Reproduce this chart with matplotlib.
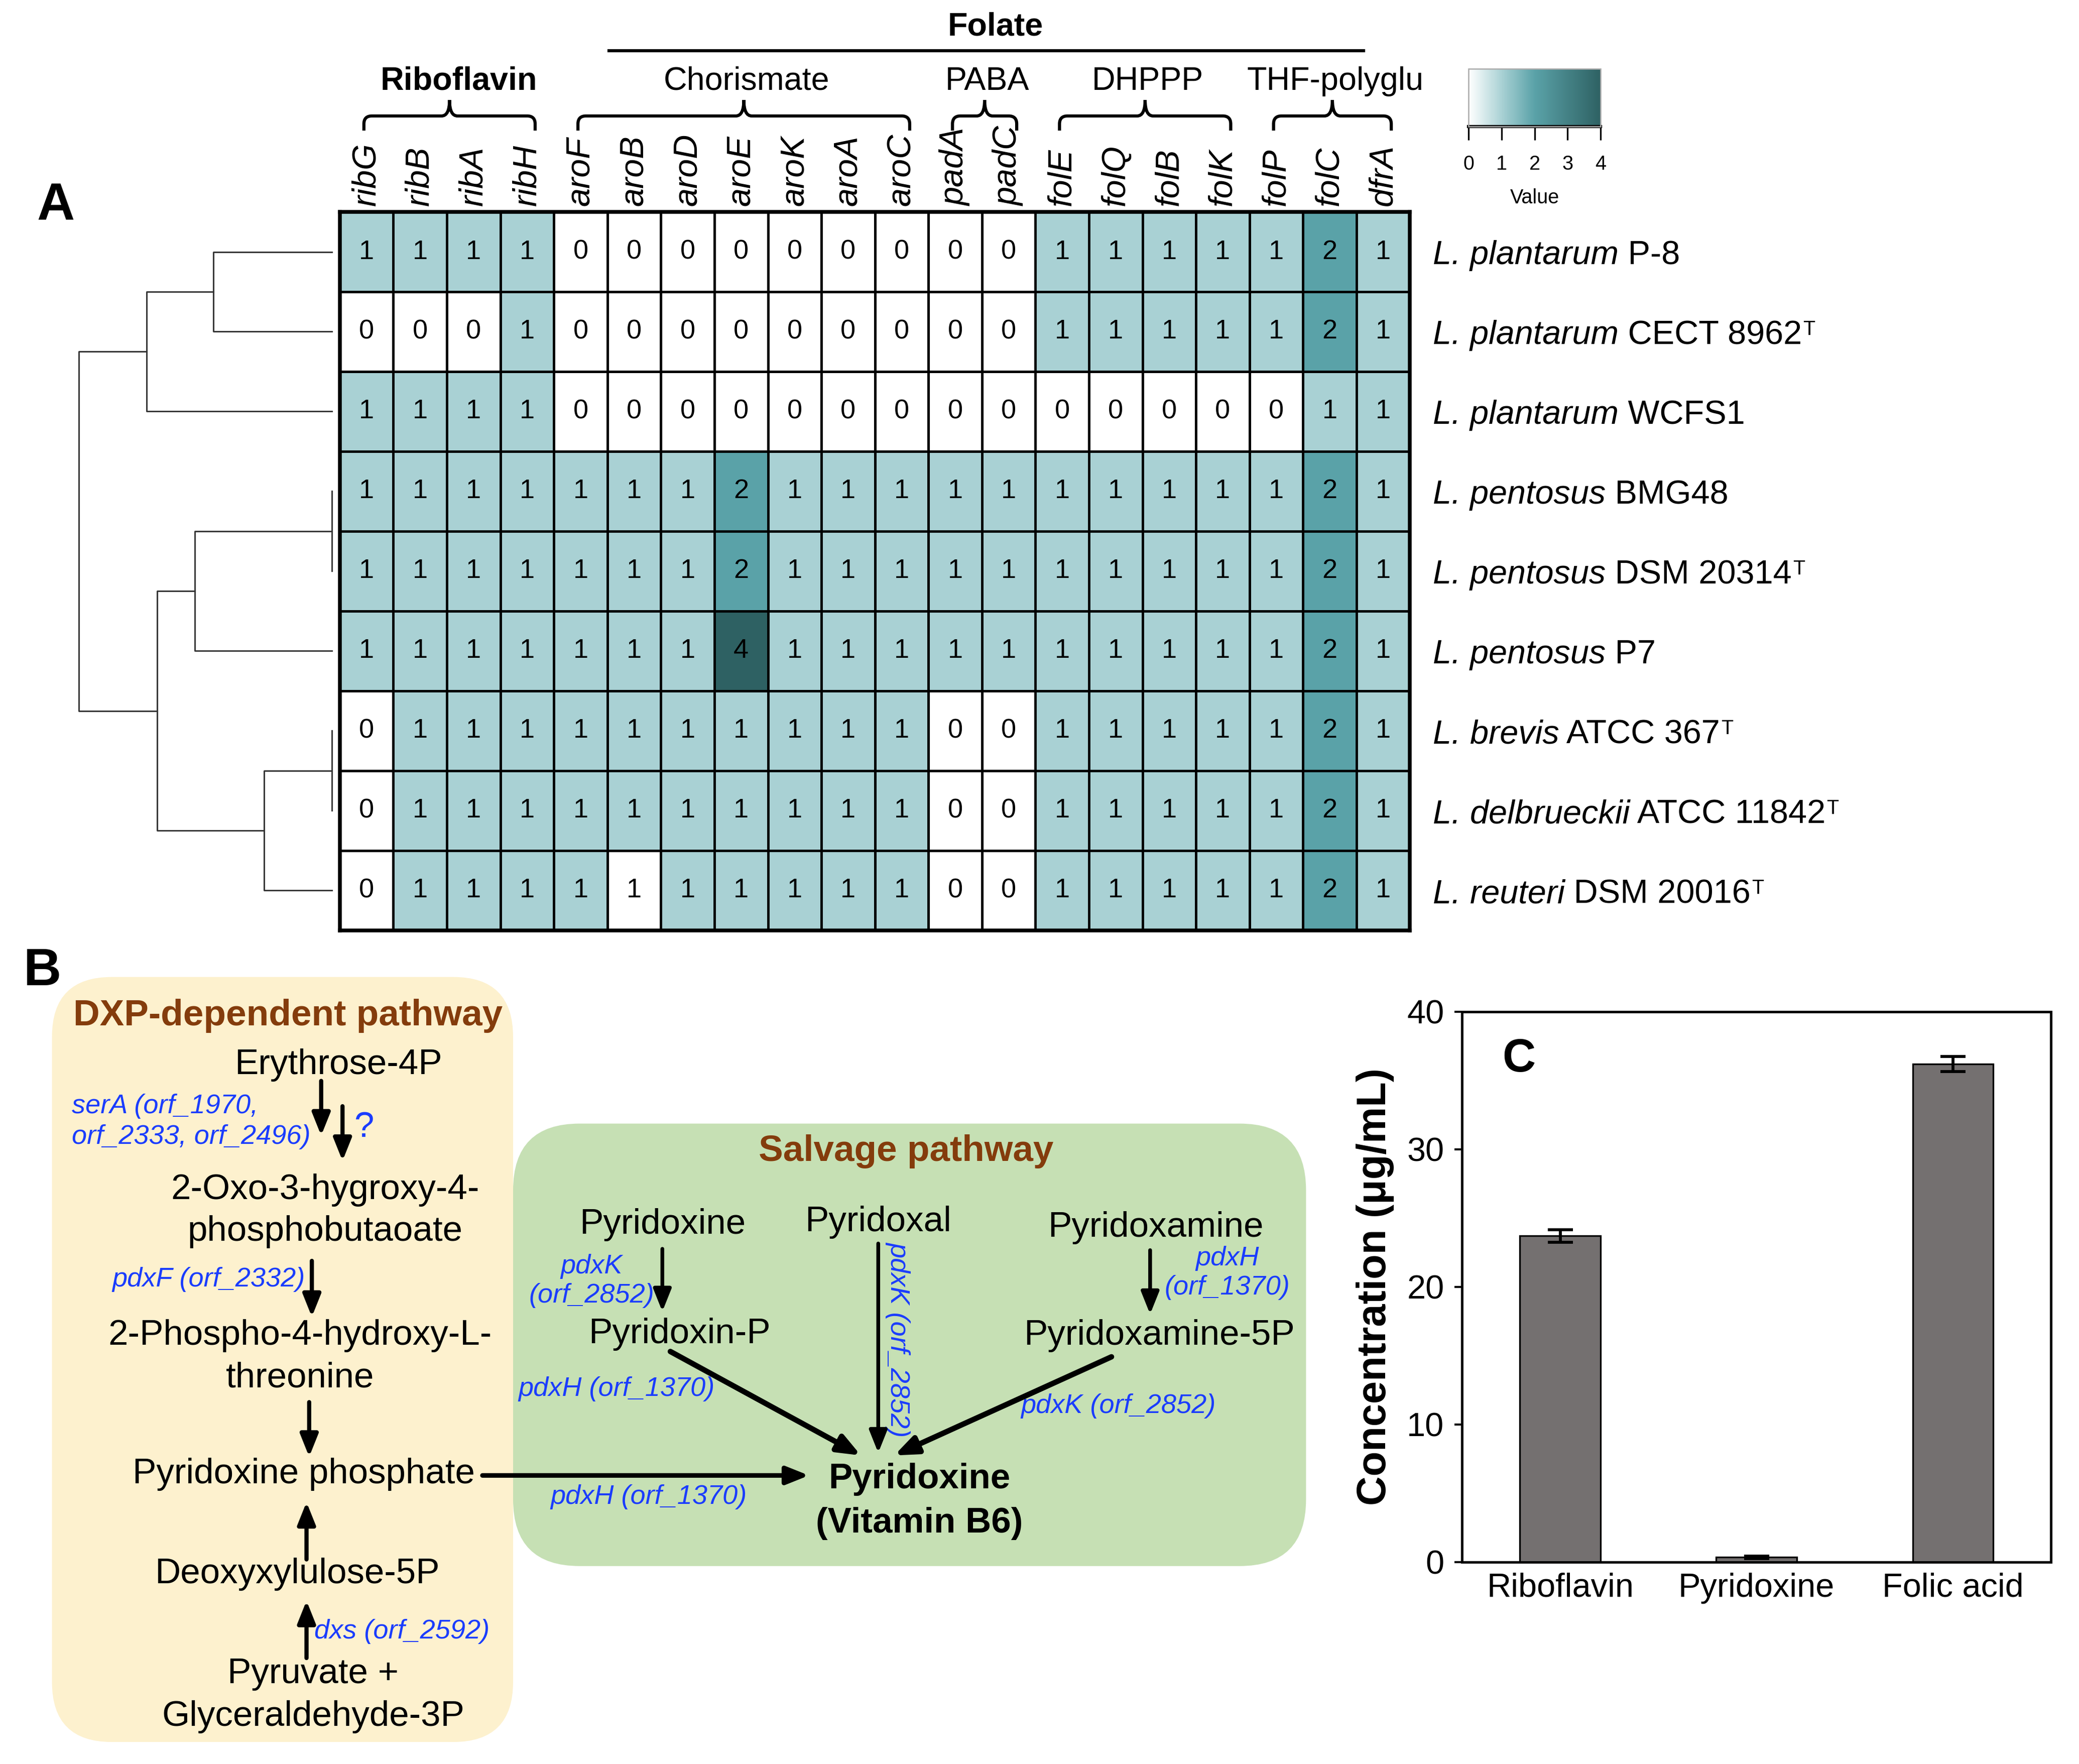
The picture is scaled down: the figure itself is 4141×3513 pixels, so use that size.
import numpy as np
import matplotlib
matplotlib.use('Agg')
import matplotlib.pyplot as plt
import matplotlib.cm as cm
from matplotlib.colors import LinearSegmentedColormap, Normalize
from matplotlib.patches import FancyBboxPatch, PathPatch
from matplotlib.path import Path

plt.rcParams['font.family'] = ['Liberation Sans', 'DejaVu Sans']

# ---------------- datos ----------------
genes = ['ribG', 'ribB', 'ribA', 'ribH', 'aroF', 'aroB', 'aroD', 'aroE', 'aroK', 'aroA',
         'aroC', 'padA', 'padC', 'folE', 'folQ', 'folB', 'folK', 'folP', 'folC', 'dfrA']
subgroups = ['Riboflavin', 'Chorismate', 'PABA', 'DHPPP', 'THF-polyglu']
subgroup_cols = [(0, 3), (4, 10), (11, 12), (13, 16), (17, 19)]
bold_subgroups = ['Riboflavin']
folate_title = 'Folate'

species = ['L. plantarum', 'L. plantarum', 'L. plantarum', 'L. pentosus', 'L. pentosus',
           'L. pentosus', 'L. brevis', 'L. delbrueckii', 'L. reuteri']
strains = ['P-8', 'CECT 8962', 'WCFS1', 'BMG48', 'DSM 20314', 'P7', 'ATCC 367',
           'ATCC 11842', 'DSM 20016']
type_strain = [False, True, False, False, True, False, True, True, True]

values = np.array([
    [1, 1, 1, 1, 0, 0, 0, 0, 0, 0, 0, 0, 0, 1, 1, 1, 1, 1, 2, 1],
    [0, 0, 0, 1, 0, 0, 0, 0, 0, 0, 0, 0, 0, 1, 1, 1, 1, 1, 2, 1],
    [1, 1, 1, 1, 0, 0, 0, 0, 0, 0, 0, 0, 0, 0, 0, 0, 0, 0, 1, 1],
    [1, 1, 1, 1, 1, 1, 1, 2, 1, 1, 1, 1, 1, 1, 1, 1, 1, 1, 2, 1],
    [1, 1, 1, 1, 1, 1, 1, 2, 1, 1, 1, 1, 1, 1, 1, 1, 1, 1, 2, 1],
    [1, 1, 1, 1, 1, 1, 1, 4, 1, 1, 1, 1, 1, 1, 1, 1, 1, 1, 2, 1],
    [0, 1, 1, 1, 1, 1, 1, 1, 1, 1, 1, 0, 0, 1, 1, 1, 1, 1, 2, 1],
    [0, 1, 1, 1, 1, 1, 1, 1, 1, 1, 1, 0, 0, 1, 1, 1, 1, 1, 2, 1],
    [0, 1, 1, 1, 1, 1, 1, 1, 1, 1, 1, 0, 0, 1, 1, 1, 1, 1, 2, 1],
])
# celda que en el original aparece sin color aunque vale 1
white_cells = [(8, 5)]

# dendrograma (estilo linkage: pares de nodos y altura de union)
dendro_pairs = [(0, 1), (9, 2), (3, 4), (11, 5), (6, 7), (13, 8), (12, 14), (10, 15)]
dendro_heights = [89, 139, 0, 103, 0, 51, 131, 190]

# panel C
vitamins = ['Riboflavin', 'Pyridoxine', 'Folic acid']
conc = [23.7, 0.35, 36.2]
conc_err = [0.45, 0.1, 0.55]

# panel B
dxp_title = 'DXP-dependent pathway'
salvage_title = 'Salvage pathway'
dxp_nodes = ['Erythrose-4P', '2-Oxo-3-hygroxy-4-', 'phosphobutaoate',
             '2-Phospho-4-hydroxy-L-', 'threonine', 'Pyridoxine phosphate',
             'Deoxyxylulose-5P', 'Pyruvate +', 'Glyceraldehyde-3P']
salvage_nodes = ['Pyridoxine', 'Pyridoxal', 'Pyridoxamine', 'Pyridoxin-P', 'Pyridoxamine-5P']
product = ['Pyridoxine', '(Vitamin B6)']
enzymes = ['serA (orf_1970,', 'orf_2333, orf_2496)', 'pdxF (orf_2332)', 'dxs (orf_2592)',
           'pdxK', '(orf_2852)', 'pdxH', '(orf_1370)', 'pdxK (orf_2852)',
           'pdxH (orf_1370)', 'pdxK (orf_2852)', 'pdxH (orf_1370)']

# ---------------- figura ----------------
W, H = 1560.0, 1323.5
fig = plt.figure(figsize=(4141 / 300, 3513 / 300), dpi=300)


def rect(x0, y0, x1, y1):
    return [x0 / W, 1 - y1 / H, (x1 - x0) / W, (y1 - y0) / H]


# eje de fondo para anotaciones en coordenadas de "pantalla"
ax0 = fig.add_axes([0, 0, 1, 1])
ax0.set_xlim(0, W)
ax0.set_ylim(H, 0)
ax0.axis('off')

cmap = LinearSegmentedColormap.from_list(
    'teal', [(0, '#FFFFFF'), (0.25, '#A9D1D4'), (0.5, '#5AA2A8'), (1.0, '#2E6163')])

# heatmap
HX0, HY0, HX1, HY1 = 255, 159, 1058, 698
ncol = len(genes)
nrow = len(species)
cw = (HX1 - HX0) / ncol
rh = (HY1 - HY0) / nrow
ax_h = fig.add_axes(rect(HX0, HY0, HX1, HY1))
fill = values.astype(float).copy()
for r, c in white_cells:
    fill[r, c] = 0
ax_h.pcolormesh(fill, cmap=cmap, vmin=0, vmax=4, edgecolors='black', linewidth=1.2)
ax_h.set_xlim(0, ncol)
ax_h.set_ylim(nrow, 0)
for r in range(values.shape[0]):
    for c in range(values.shape[1]):
        ax_h.text(c + 0.5, r + 0.5, str(values[r, c]), ha='center', va='center', fontsize=13)
ax_h.xaxis.tick_top()
ax_h.set_xticks(np.arange(ncol) + 0.5)
ax_h.set_xticklabels(genes, rotation=90, fontstyle='italic', fontsize=16)
ax_h.tick_params(axis='x', length=0, pad=3)
ax_h.set_yticks([])
for sp in ax_h.spines.values():
    sp.set_linewidth(1.8)

# etiquetas de cepas: especie en cursiva + cepa + T en superindice
for i, (sp, st, t) in enumerate(zip(species, strains, type_strain)):
    t1 = ax0.text(1075, HY0 + (i + 0.5) * rh + 3, sp, ha='left', va='center',
                  fontsize=16, fontstyle='italic')
    t2 = ax0.annotate(' ' + st, xy=(1, 0), xycoords=t1, ha='left', va='bottom', fontsize=16)
    if t:
        ax0.annotate('T', xy=(1, 1), xycoords=t2, xytext=(0.5, 0),
                     textcoords='offset points', ha='left', va='top', fontsize=9.5)

# dendrograma
ax_d = fig.add_axes(rect(59, HY0, 249, HY1))
pos = {i: (i + 0.5, 0) for i in range(nrow)}
for k, ((a, b), h) in enumerate(zip(dendro_pairs, dendro_heights)):
    ya, ha = pos[a]
    yb, hb = pos[b]
    ax_d.plot([ha, h, h, hb], [ya, ya, yb, yb], color='#333333', lw=0.7, clip_on=False)
    pos[nrow + k] = ((ya + yb) / 2, h)
ax_d.set_xlim(max(dendro_heights), 0)
ax_d.set_ylim(nrow, 0)
ax_d.axis('off')


# llaves y titulos de grupos
def brace(x0, x1, yb=98, yh=87, yt=75, r=6):
    xm = (x0 + x1) / 2
    verts = [(x0, yb), (x0, yh + r), (x0, yh), (x0 + r, yh), (xm - r, yh), (xm, yh), (xm, yt),
             (xm, yh), (xm + r, yh), (x1 - r, yh), (x1, yh), (x1, yh + r), (x1, yb)]
    codes = [Path.MOVETO, Path.LINETO, Path.CURVE3, Path.CURVE3, Path.LINETO, Path.CURVE3,
             Path.CURVE3, Path.CURVE3, Path.CURVE3, Path.LINETO, Path.CURVE3, Path.CURVE3,
             Path.LINETO]
    ax0.add_patch(PathPatch(Path(verts, codes), fill=False, lw=1.5, color='black'))
    return xm


for name, (c0, c1) in zip(subgroups, subgroup_cols):
    xm = brace(HX0 + (c0 + 0.45) * cw, HX0 + (c1 + 0.65) * cw)
    bold = name in bold_subgroups
    ax0.text(xm + (7 if bold else 2), 61, name, ha='center', va='center', fontsize=15.5,
             fontweight='bold' if bold else 'normal')
ax0.plot([457, 1023], [38, 38], color='black', lw=1.5)
ax0.text(747, 20, folate_title, ha='center', va='center', fontsize=15.5, fontweight='bold')

# barra de color
cax = fig.add_axes(rect(1102, 51.5, 1201, 95))
cb = fig.colorbar(cm.ScalarMappable(norm=Normalize(0, 4), cmap=cmap), cax=cax,
                  orientation='horizontal', ticks=range(5))
cb.outline.set_edgecolor('#aaaaaa')
cb.outline.set_linewidth(0.6)
cax.tick_params(length=6.4, width=0.8, labelsize=9.5, pad=7)
cb.set_label('Value', fontsize=9.5, labelpad=7)
cax.plot([0, 1], [0, 0], transform=cax.transAxes, color='black', lw=1.5, clip_on=False)

# letras de panel
ax0.text(42, 155, 'A', ha='center', va='center', fontsize=25, fontweight='bold')
ax0.text(32, 729, 'B', ha='center', va='center', fontsize=25, fontweight='bold')

# ---------------- panel B ----------------
ax0.add_patch(FancyBboxPatch((39, 733), 346, 574, boxstyle='round,pad=0,rounding_size=45',
                             facecolor='#FDF1CE', edgecolor='none', zorder=0))
ax0.add_patch(FancyBboxPatch((385, 843), 595, 332, boxstyle='round,pad=0,rounding_size=50',
                             facecolor='#C6E0B4', edgecolor='none', zorder=0))

brown = '#843C0C'
blue = '#1A3CFF'
ax0.text(216, 762, dxp_title, ha='center', va='center', fontsize=17.5, fontweight='bold', color=brown)
ax0.text(680, 864, salvage_title, ha='center', va='center', fontsize=17.5, fontweight='bold', color=brown)

dxp_pos = [(254, 799), (244, 893), (244, 924), (225, 1002), (225, 1034), (228, 1106),
           (223, 1181), (235, 1256), (235, 1288)]
for s, (x, y) in zip(dxp_nodes, dxp_pos):
    ax0.text(x, y, s, ha='center', va='center', fontsize=17)
salv_pos = [(497, 919), (659, 917), (867, 921), (510, 1001), (870, 1002)]
for s, (x, y) in zip(salvage_nodes, salv_pos):
    ax0.text(x, y, s, ha='center', va='center', fontsize=17)
for s, y in zip(product, [1110, 1143]):
    ax0.text(690, y, s, ha='center', va='center', fontsize=17, fontweight='bold')

enz_pos = [(54, 830, 'left', 0), (54, 853, 'left', 0), (229, 960, 'right', 0),
           (236, 1224, 'left', 0), (444, 950, 'center', 0), (444, 972, 'center', 0),
           (921, 944, 'center', 0), (921, 966, 'center', 0), (674, 1005, 'center', -90),
           (389, 1042, 'left', 0), (766, 1055, 'left', 0), (413, 1123, 'left', 0)]
for s, (x, y, ha, rot) in zip(enzymes, enz_pos):
    ax0.text(x, y, s, ha=ha, va='center', fontsize=13, fontstyle='italic', color=blue,
             rotation=rot, rotation_mode='anchor' if rot else 'default')
ax0.text(273, 846, '?', ha='center', va='center', fontsize=17, color=blue)

arrows = [((241, 811), (241, 852), 2.0), ((257, 830), (257, 871), 2.0),
          ((234, 946), (234, 988), 2.0), ((232, 1052), (232, 1093), 2.0),
          ((362, 1107), (607, 1107), 2.2), ((230, 1170), (230, 1127), 2.0),
          ((230, 1244), (230, 1201), 2.0), ((497, 937), (497, 984), 1.8),
          ((863, 938), (863, 986), 1.8), ((659, 933), (659, 1090), 1.8),
          ((503, 1014), (646, 1092), 2.6), ((834, 1018), (671, 1092), 2.6)]
for start, end, lw in arrows:
    ax0.annotate('', xy=end, xytext=start,
                 arrowprops=dict(arrowstyle='-|>,head_length=0.45,head_width=0.18',
                                 mutation_scale=20, lw=lw, color='black',
                                 shrinkA=0, shrinkB=0))

# ---------------- panel C ----------------
ax_c = fig.add_axes(rect(1097, 759, 1539, 1172))
ax_c.bar(range(len(vitamins)), conc, width=0.41, color='#747070', edgecolor='black',
         linewidth=0.8, yerr=conc_err, capsize=6,
         error_kw=dict(elinewidth=1.4, capthick=1.4, ecolor='black'))
ax_c.set_xlim(-0.5, 2.5)
ax_c.set_ylim(0, 40)
ax_c.set_yticks([0, 10, 20, 30, 40])
ax_c.set_xticks(range(len(vitamins)))
ax_c.set_xticklabels(vitamins)
ax_c.tick_params(axis='x', length=0, pad=5, labelsize=16)
ax_c.tick_params(axis='y', length=3.5, width=1.0, pad=5, labelsize=16)
for sp in ax_c.spines.values():
    sp.set_linewidth(1.2)
ax_c.set_ylabel('Concentration (μg/mL)', fontsize=19.5, fontweight='bold')
ax_c.yaxis.set_label_coords(-0.115, 0.5)
ax_c.text(0.097, 0.913, 'C', transform=ax_c.transAxes, ha='center', va='center',
          fontsize=22, fontweight='bold')

fig.savefig('out.png', dpi=300)
